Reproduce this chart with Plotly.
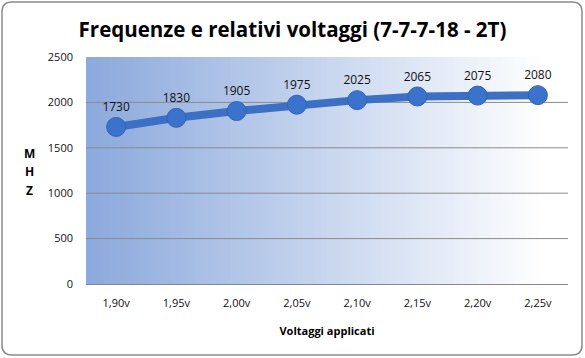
import plotly.graph_objects as go

categories = ["1,90v", "1,95v", "2,00v", "2,05v", "2,10v", "2,15v", "2,20v", "2,25v"]
mhz = [1730, 1830, 1905, 1975, 2025, 2065, 2075, 2080]
y_ticks = [0, 500, 1000, 1500, 2000, 2500]
y_title_letters = ["M", "H", "Z"]

W, H = 585, 358
L, R, T, B = 86, 17, 57, 74
pw, ph = W - L - R, H - T - B

def px(x):
    return (x - L) / pw

def py(y):
    return (H - B - y) / ph

fig = go.Figure()
fig.add_trace(go.Scatter(
    x=categories, y=mhz, mode="lines+markers+text",
    line=dict(color="rgb(60,112,196)", width=8),
    marker=dict(size=19, color="rgb(58,114,204)", line=dict(color="rgb(50,100,180)", width=1)),
    text=[str(v) for v in mhz], textposition="top center",
    textfont=dict(family="Open Sans", size=12, color="#111"),
    cliponaxis=False, hoverinfo="skip",
))

shapes = []
# gradient background
n = 80
c0 = (140, 170, 221)
c1 = (255, 255, 255)
for i in range(n):
    t = i / (n - 1)
    t2 = min(1.0, t * 1.05)
    c = tuple(int(c0[k] + (c1[k] - c0[k]) * t2) for k in range(3))
    shapes.append(dict(type="rect", xref="x domain", yref="y domain",
                       x0=i / n, x1=(i + 1) / n + 0.002, y0=0, y1=1,
                       fillcolor="rgb(%d,%d,%d)" % c, line=dict(width=0), layer="below"))

# gridlines (not at the top edge)
for v in y_ticks[1:-1]:
    shapes.append(dict(type="line", xref="x domain", yref="y", x0=0, x1=1, y0=v, y1=v,
                       line=dict(color="#8a8a8a", width=1), layer="below"))

# rounded outer border
x0, x1, y0, y1, r = px(2), px(582), py(355), py(2), 10
rx, ry = r / pw, r / ph
path = (f"M {x0+rx},{y1} L {x1-rx},{y1} Q {x1},{y1} {x1},{y1-ry} "
        f"L {x1},{y0+ry} Q {x1},{y0} {x1-rx},{y0} L {x0+rx},{y0} "
        f"Q {x0},{y0} {x0},{y0+ry} L {x0},{y1-ry} Q {x0},{y1} {x0+rx},{y1} Z")
shapes.append(dict(type="path", xref="paper", yref="paper", path=path,
                   line=dict(color="#8c8c8c", width=1.5), layer="below"))

annotations = []
for i, ch in enumerate(y_title_letters):
    annotations.append(dict(text="<b>%s</b>" % ch, xref="paper", yref="paper",
                            x=px(29), y=py(153 + 18.5 * i), showarrow=False,
                            font=dict(family="Open Sans", size=12, color="black"),
                            xanchor="center", yanchor="middle"))

fig.update_layout(
    width=W, height=H,
    margin=dict(l=L, r=R, t=T, b=B),
    paper_bgcolor="white", plot_bgcolor="white",
    showlegend=False,
    shapes=shapes,
    annotations=annotations,
    title=dict(text="<b>Frequenze e relativi voltaggi (7-7-7-18 - 2T)</b>",
               x=0.5, xref="container", xanchor="center", y=1 - 30 / H, yanchor="middle",
               font=dict(family="Open Sans", size=20.5, color="black")),
    xaxis=dict(range=[-0.5, len(categories) - 0.5], showgrid=False, showline=True,
               linecolor="#888", linewidth=1,
               ticks="", tickfont=dict(family="Open Sans", size=11, color="#111"),
               ticklabelstandoff=9,
               title=dict(text="<b>Voltaggi applicati</b>", standoff=18,
                          font=dict(family="Open Sans", size=11, color="black"))),
    yaxis=dict(range=[0, 2500], tickvals=y_ticks, showgrid=False,
               zeroline=False, showline=False, ticks="",
               tickfont=dict(family="Open Sans", size=11, color="#111"),
               ticklabelstandoff=12),
)

fig.write_html("out.html", config={"displayModeBar": False},
               post_script="document.body.style.margin='0';document.body.style.overflow='hidden';")
